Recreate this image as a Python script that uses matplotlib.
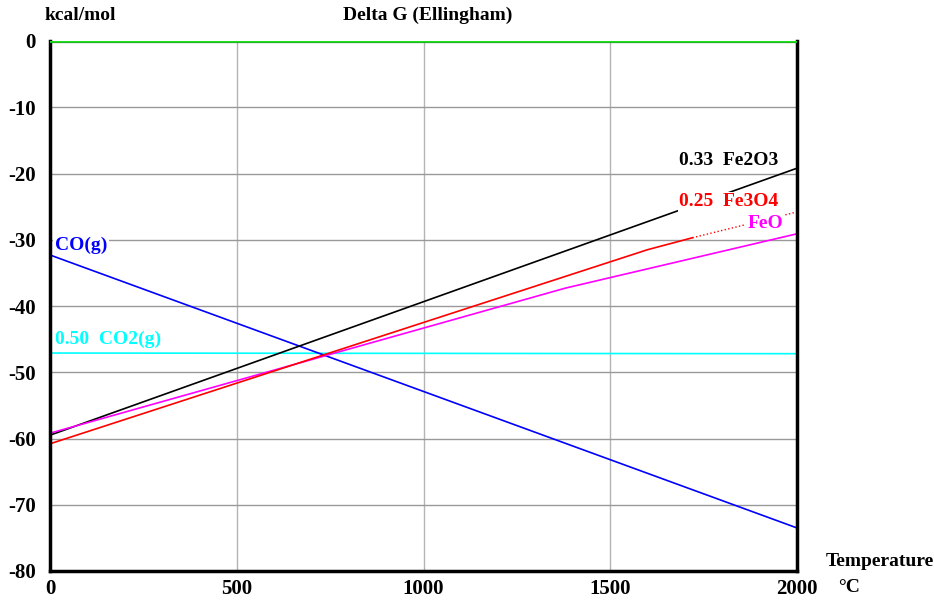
import numpy as np
from matplotlib import pyplot as plt

plt.rcParams['font.family'] = ['Liberation Serif', 'DejaVu Serif']
plt.rcParams['font.weight'] = 'bold'
plt.rcParams['axes.unicode_minus'] = False

# temperatures (deg C) and Delta G values (kcal/mol)
t_fe2o3 = [0, 2000]
g_fe2o3 = [-59.5, -19.2]

t_fe3o4 = [0, 1600, 1720]
g_fe3o4 = [-60.8, -31.5, -29.7]
t_fe3o4_dot = [1720, 2000]
g_fe3o4_dot = [-29.7, -25.8]

t_feo = [0, 1380, 2000]
g_feo = [-59.2, -37.3, -29.1]

t_co = [0, 2000]
g_co = [-32.3, -73.5]

t_co2 = [0, 2000]
g_co2 = [-47.1, -47.2]

fig = plt.figure(figsize=(9.34, 6.01), dpi=100)
ax = fig.add_axes([50/934, 1-571/601, 747/934, 530/601])

ax.set_xlim(0, 2000)
ax.set_ylim(-80, 0)
ax.set_xticks([0, 500, 1000, 1500, 2000])
ax.set_yticks(np.arange(-80, 1, 10))
ax.xaxis.grid(True, color='#b4b4b4', lw=1)
ax.yaxis.grid(True, color='#999999', lw=1)
ax.set_axisbelow(True)
ax.tick_params(length=0, labelsize=15)
ax.tick_params(axis='y', pad=10)
ax.tick_params(axis='x', pad=6)
for s in ['left', 'bottom', 'right']:
    ax.spines[s].set_linewidth(2.5)
ax.spines['top'].set_visible(False)

ax.axhline(0, color='#104010', lw=3, zorder=3)
ax.axhline(0, color='#20e020', lw=1.8, zorder=3)
ax.plot(t_co2, g_co2, color='cyan', lw=1.2)
ax.plot(t_co, g_co, color='blue', lw=1.2)
ax.plot(t_fe2o3, g_fe2o3, color='black', lw=1.2)
ax.plot(t_feo, g_feo, color='magenta', lw=1.2)
ax.plot(t_fe3o4, g_fe3o4, color='red', lw=1.2)
ax.plot(t_fe3o4_dot, g_fe3o4_dot, color='red', lw=1, ls=':')

box = dict(facecolor='white', edgecolor='none', pad=1)
ax.text(13, -30.8, 'CO(g)', color='blue', fontsize=14, va='center', bbox=box, zorder=4)
ax.text(13, -45.0, '0.50  CO2(g)', color='cyan', fontsize=14, va='center', bbox=box, zorder=4)
ax.text(1950, -18.0, '0.33  Fe2O3', color='black', fontsize=14, va='center', ha='right', bbox=box, zorder=4)
ax.text(1950, -24.3, '0.25  Fe3O4', color='red', fontsize=14, va='center', ha='right', bbox=box, zorder=4)
ax.text(1963, -27.5, 'FeO', color='magenta', fontsize=14, va='center', ha='right', bbox=box, zorder=4)

fig.text(45/934, 1-15/601, 'kcal/mol', fontsize=14, va='center')
fig.text(428/934, 1-15/601, 'Delta G (Ellingham)', fontsize=14, va='center', ha='center')
fig.text(826/934, 1-562/601, 'Temperature', fontsize=14, va='center')
fig.text(838/934, 1-588/601, '\u00b0C', fontsize=14, va='center')

fig.savefig('out.png', dpi=100)
